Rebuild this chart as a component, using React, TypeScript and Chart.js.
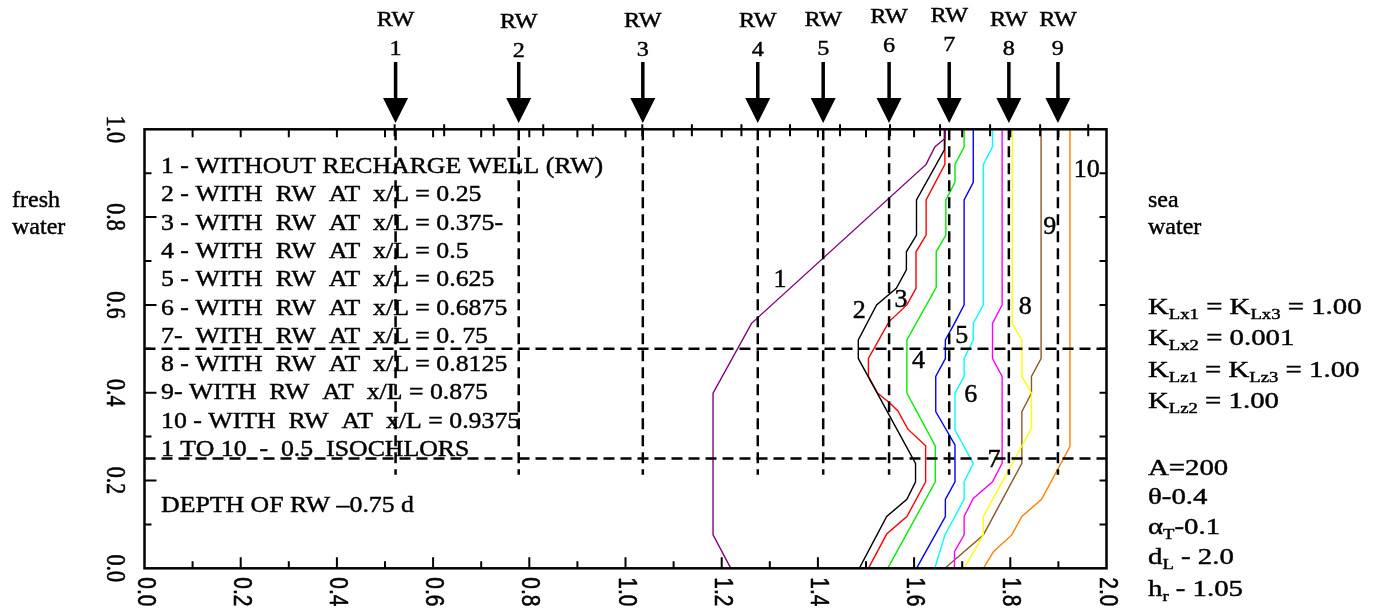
import { useEffect, useRef } from "react";
import { Chart, registerables } from "chart.js";

Chart.register(...registerables);

// ---- data -----------------------------------------------------------------

// 0.5 isochlor positions [x, z] for each recharge-well case
const isochlor1: [number, number][] = [
  [1.664, 1.0], [1.664, 0.979], [1.643, 0.96], [1.625, 0.92], [1.262, 0.558],
  [1.182, 0.399], [1.182, 0.076], [1.219, 0.0],
];
const isochlor2: [number, number][] = [
  [1.664, 1.0], [1.663, 0.953], [1.605, 0.839], [1.605, 0.759], [1.584, 0.721],
  [1.584, 0.68], [1.563, 0.638], [1.522, 0.6], [1.484, 0.52], [1.484, 0.478],
  [1.603, 0.239], [1.603, 0.197], [1.585, 0.157], [1.543, 0.118], [1.486, 0.0],
];
const isochlor3: [number, number][] = [
  [1.664, 1.0], [1.664, 0.92], [1.625, 0.839], [1.625, 0.759], [1.604, 0.721],
  [1.604, 0.638], [1.585, 0.6], [1.548, 0.562], [1.505, 0.478], [1.505, 0.437],
  [1.524, 0.399], [1.55, 0.376], [1.566, 0.359], [1.587, 0.317], [1.624, 0.279],
  [1.624, 0.197], [1.585, 0.118], [1.543, 0.078], [1.505, 0.0],
];
const isochlor4: [number, number][] = [
  [1.704, 1.0], [1.704, 0.96], [1.685, 0.92], [1.685, 0.879], [1.666, 0.839],
  [1.666, 0.759], [1.646, 0.721], [1.646, 0.64], [1.585, 0.52], [1.585, 0.399],
  [1.644, 0.279], [1.644, 0.197], [1.545, 0.0],
];
const isochlor5: [number, number][] = [
  [1.723, 1.0], [1.723, 0.879], [1.704, 0.839], [1.704, 0.6], [1.684, 0.558],
  [1.665, 0.52], [1.665, 0.478], [1.645, 0.437], [1.645, 0.357], [1.665, 0.319],
  [1.675, 0.3], [1.685, 0.281], [1.685, 0.197], [1.665, 0.157], [1.665, 0.118],
  [1.605, 0.0],
];
const isochlor6: [number, number][] = [
  [1.763, 1.0], [1.763, 0.96], [1.744, 0.92], [1.744, 0.6], [1.723, 0.558],
  [1.723, 0.52], [1.704, 0.478], [1.704, 0.437], [1.685, 0.399], [1.685, 0.315],
  [1.723, 0.239], [1.704, 0.197], [1.704, 0.157], [1.664, 0.076], [1.643, 0.0],
];
const isochlor7: [number, number][] = [
  [1.783, 1.0], [1.783, 0.6], [1.763, 0.558], [1.763, 0.478], [1.783, 0.437],
  [1.783, 0.239], [1.763, 0.197], [1.723, 0.159], [1.704, 0.118], [1.704, 0.076],
  [1.684, 0.038], [1.684, 0.0],
];
const isochlor8: [number, number][] = [
  [1.804, 1.0], [1.804, 0.558], [1.824, 0.52], [1.824, 0.437], [1.844, 0.399],
  [1.844, 0.319], [1.744, 0.118], [1.744, 0.076], [1.704, 0.0],
];
const isochlor9: [number, number][] = [
  [1.864, 1.0], [1.864, 0.478], [1.844, 0.437], [1.844, 0.399], [1.824, 0.357],
  [1.824, 0.239], [1.744, 0.076], [1.664, 0.0],
];
const isochlor10: [number, number][] = [
  [1.924, 1.0], [1.924, 0.277], [1.865, 0.157], [1.824, 0.118], [1.803, 0.076],
  [1.765, 0.038], [1.744, 0.0],
];

const isochlors = [
  isochlor1, isochlor2, isochlor3, isochlor4, isochlor5,
  isochlor6, isochlor7, isochlor8, isochlor9, isochlor10,
];
const isochlorColors = [
  "#800080", "#000000", "#ff0000", "#00ee00", "#0000ff",
  "#00ffff", "#ff00ff", "#ffff00", "#8c5a28", "#ff8000",
];

// curve number labels, placed in data coordinates
const curveLabels = ["1", "2", "3", "4", "5", "6", "7", "8", "9", "10"];
const curveLabelX = [1.321, 1.486, 1.573, 1.609, 1.699, 1.718, 1.766, 1.831, 1.882, 1.959];
const curveLabelY = [0.657, 0.585, 0.61, 0.472, 0.528, 0.395, 0.246, 0.594, 0.778, 0.908];

// recharge well locations (x) and the bottom of each well line (depth 0.75 d)
const rwNames = ["1", "2", "3", "4", "5", "6", "7", "8", "9"];
const rwX = [0.522, 0.778, 1.036, 1.275, 1.411, 1.548, 1.673, 1.797, 1.899];
const rwBottom = 0.213;

// horizontal layer boundaries
const layerY = [0.5, 0.25];

// axis ticks
const xTickLabels = ["0.0", "0.2", "0.4", "0.6", "0.8", "1.0", "1.2", "1.4", "1.6", "1.8", "2.0"];
const yTickLabels = ["0.0", "0.2", "0.4", "0.6", "0.8", "1.0"];
const topOffsetTicks = [
  0.52, 0.623, 0.726, 0.829, 0.932, 1.035, 1.138, 1.241, 1.342, 1.446,
  1.55, 1.654, 1.758, 1.862, 1.962,
];

const legendLines = [
  "1 - WITHOUT RECHARGE WELL (RW)",
  "2 - WITH  RW  AT  x/L = 0.25",
  "3 - WITH  RW  AT  x/L = 0.375-",
  "4 - WITH  RW  AT  x/L = 0.5",
  "5 - WITH  RW  AT  x/L = 0.625",
  "6 - WITH  RW  AT  x/L = 0.6875",
  "7-  WITH  RW  AT  x/L = 0. 75",
  "8 - WITH  RW  AT  x/L = 0.8125",
  "9- WITH  RW  AT  x/L = 0.875",
  "10 - WITH  RW  AT  x/L = 0.9375",
  "1 TO 10  -  0.5  ISOCHLORS",
];
const depthNote = "DEPTH OF RW \u20130.75 d";

type Seg = { t: string; sub?: boolean };
const kLines: Seg[][] = [
  [{ t: "K" }, { t: "Lx1", sub: true }, { t: " = K" }, { t: "Lx3", sub: true }, { t: " = 1.00" }],
  [{ t: "K" }, { t: "Lx2", sub: true }, { t: " = 0.001" }],
  [{ t: "K" }, { t: "Lz1", sub: true }, { t: " = K" }, { t: "Lz3", sub: true }, { t: " = 1.00" }],
  [{ t: "K" }, { t: "Lz2", sub: true }, { t: " = 1.00" }],
];
const paramLines: Seg[][] = [
  [{ t: "A=200" }],
  [{ t: "\u03b8-0.4" }],
  [{ t: "\u03b1" }, { t: "T", sub: true }, { t: "-0.1" }],
  [{ t: "d" }, { t: "L", sub: true }, { t: " - 2.0" }],
  [{ t: "h" }, { t: "r", sub: true }, { t: " - 1.05" }],
];

// ---- drawing helpers ------------------------------------------------------

const SERIF = '"Liberation Serif", "Times New Roman", serif';
const SANS = '"Liberation Sans", Arial, sans-serif';
const INK = 0.45; // faint outline that gives the type a slightly heavier print

function ink(ctx: CanvasRenderingContext2D, t: string, x: number, y: number) {
  ctx.fillText(t, x, y);
  ctx.lineWidth = INK;
  ctx.strokeText(t, x, y);
}

function drawRich(ctx: CanvasRenderingContext2D, segs: Seg[], x: number, y: number, size: number, sx: number) {
  ctx.save();
  ctx.translate(x, y);
  ctx.scale(sx, 1);
  ctx.textAlign = "left";
  ctx.textBaseline = "alphabetic";
  let cx = 0;
  for (const s of segs) {
    const fs = s.sub ? size * 0.65 : size;
    ctx.font = `${fs}px ${SERIF}`;
    ink(ctx, s.t, cx, s.sub ? size * 0.22 : 0);
    cx += ctx.measureText(s.t).width;
  }
  ctx.restore();
}

function drawText(ctx: CanvasRenderingContext2D, t: string, x: number, y: number, font: string, sx: number, align: CanvasTextAlign = "left", base: CanvasTextBaseline = "alphabetic") {
  ctx.save();
  ctx.translate(x, y);
  ctx.scale(sx, 1);
  ctx.font = font;
  ctx.textAlign = align;
  ctx.textBaseline = base;
  ink(ctx, t, 0, 0);
  ctx.restore();
}

const framePlugin = {
  id: "frameAndNotes",
  afterDraw(chart: any) {
    const ctx: CanvasRenderingContext2D = chart.ctx;
    const xs = chart.scales.x;
    const ys = chart.scales.y;
    const { left, right, top, bottom } = chart.chartArea;
    ctx.save();
    ctx.fillStyle = "#000";
    ctx.strokeStyle = "#000";

    // tick marks, all pointing into the plot
    ctx.lineWidth = 2;
    ctx.beginPath();
    for (let i = 1; i < 20; i++) {
      const v = i / 10;
      const px = xs.getPixelForValue(v);
      const len = i % 2 === 0 ? 11 : 7;
      ctx.moveTo(px, bottom);
      ctx.lineTo(px, bottom - len);
      ctx.moveTo(px, top);
      ctx.lineTo(px, top + 8);
    }
    for (const v of topOffsetTicks) {
      const px = xs.getPixelForValue(v);
      ctx.moveTo(px, top - 5);
      ctx.lineTo(px, top + 7);
    }
    for (let i = 1; i < 10; i++) {
      const py = ys.getPixelForValue(i / 10);
      const len = i % 2 === 0 ? 12 : 7;
      ctx.moveTo(left, py);
      ctx.lineTo(left + len, py);
      ctx.moveTo(right, py);
      ctx.lineTo(right - 7, py);
    }
    ctx.stroke();

    // plot frame
    ctx.lineWidth = 2.5;
    ctx.strokeRect(left, top, right - left, bottom - top);

    // tick labels, turned a quarter clockwise
    xTickLabels.forEach((lab) => {
      const px = xs.getPixelForValue(parseFloat(lab));
      ctx.save();
      ctx.translate(px, bottom + 9);
      ctx.scale(1.2, 1);
      ctx.rotate(Math.PI / 2);
      ctx.font = `21px ${SANS}`;
      ctx.textAlign = "left";
      ctx.textBaseline = "middle";
      ink(ctx, lab, 0, 0);
      ctx.restore();
    });
    yTickLabels.forEach((lab) => {
      const py = ys.getPixelForValue(parseFloat(lab));
      ctx.save();
      ctx.translate(114, py);
      ctx.scale(1.2, 1);
      ctx.rotate(Math.PI / 2);
      ctx.font = `22px ${SERIF}`;
      ctx.textAlign = "center";
      ctx.textBaseline = "middle";
      ink(ctx, lab, 0, 0);
      ctx.restore();
    });

    // recharge well arrows and names
    const lift = [0, -2, -1, -1, 0, 3, 4, 0, 0];
    rwX.forEach((v, i) => {
      const px = xs.getPixelForValue(v);
      ctx.fillRect(px - 1.75, 62, 3.5, 37);
      ctx.beginPath();
      ctx.moveTo(px - 12.5, 98);
      ctx.lineTo(px + 12.5, 98);
      ctx.lineTo(px, 123);
      ctx.closePath();
      ctx.fill();
      drawText(ctx, "RW", px, 20 - lift[i], `21px ${SERIF}`, 1.15, "center", "middle");
      drawText(ctx, rwNames[i], px, 49 - lift[i], `22px ${SERIF}`, 1.1, "center", "middle");
    });

    // curve numbers
    curveLabels.forEach((lab, i) => {
      drawText(ctx, lab, xs.getPixelForValue(curveLabelX[i]), ys.getPixelForValue(curveLabelY[i]), `26px ${SERIF}`, 1, "center", "middle");
    });

    // legend block inside the plot
    legendLines.forEach((t, i) => {
      drawText(ctx, t, 161, 173 + 28.3 * i, `24px ${SERIF}`, 1.075);
    });
    drawText(ctx, depthNote, 161, 512, `24px ${SERIF}`, 1.075);

    // side notes
    drawText(ctx, "fresh", 12, 207, `24px ${SERIF}`, 1);
    drawText(ctx, "water", 12, 234, `24px ${SERIF}`, 1);
    drawText(ctx, "sea", 1148, 207, `24px ${SERIF}`, 1);
    drawText(ctx, "water", 1148, 234, `24px ${SERIF}`, 1);
    const kBase = [314, 345, 377, 408];
    kLines.forEach((segs, i) => drawRich(ctx, segs, 1148, kBase[i], 24, 1.2));
    const pBase = [475, 504, 534, 564, 596];
    paramLines.forEach((segs, i) => drawRich(ctx, segs, 1148, pBase[i], 24, 1.2));

    ctx.restore();
  },
};

export default function App() {
  const ref = useRef<HTMLCanvasElement>(null);

  useEffect(() => {
    if (!ref.current) return;
    const dashed = { borderColor: "#000", borderWidth: 2.5, borderDash: [11, 6], showLine: true, pointRadius: 0, fill: false };
    const datasets: any[] = [];
    rwX.forEach((v, i) => {
      datasets.push({ label: `RW ${rwNames[i]}`, data: [{ x: v, y: 1 }, { x: v, y: rwBottom }], ...dashed });
    });
    layerY.forEach((v) => {
      datasets.push({ label: `z=${v}`, data: [{ x: 0, y: v }, { x: 2, y: v }], ...dashed });
    });
    isochlors.forEach((pts, i) => {
      datasets.push({
        label: curveLabels[i],
        data: pts.map(([x, y]) => ({ x, y })),
        borderColor: isochlorColors[i],
        borderWidth: 1.4,
        showLine: true,
        pointRadius: 0,
        fill: false,
        tension: 0,
      });
    });

    const chart = new Chart(ref.current, {
      type: "scatter",
      data: { datasets },
      options: {
        responsive: false,
        animation: false,
        devicePixelRatio: 1,
        layout: { padding: { left: 144.5, right: 275.5, top: 129.3, bottom: 44.7 } },
        scales: {
          x: { type: "linear", min: 0, max: 2, display: false },
          y: { type: "linear", min: 0, max: 1, display: false },
        },
        plugins: { legend: { display: false }, tooltip: { enabled: false } },
        elements: { point: { radius: 0 } },
      },
      plugins: [framePlugin],
    });
    return () => chart.destroy();
  }, []);

  return (
    <div style={{ position: "fixed", left: 0, top: 0, width: 1382, height: 613, background: "#fff" }}>
      <canvas ref={ref} width={1382} height={613} style={{ display: "block", width: 1382, height: 613 }} />
    </div>
  );
}
